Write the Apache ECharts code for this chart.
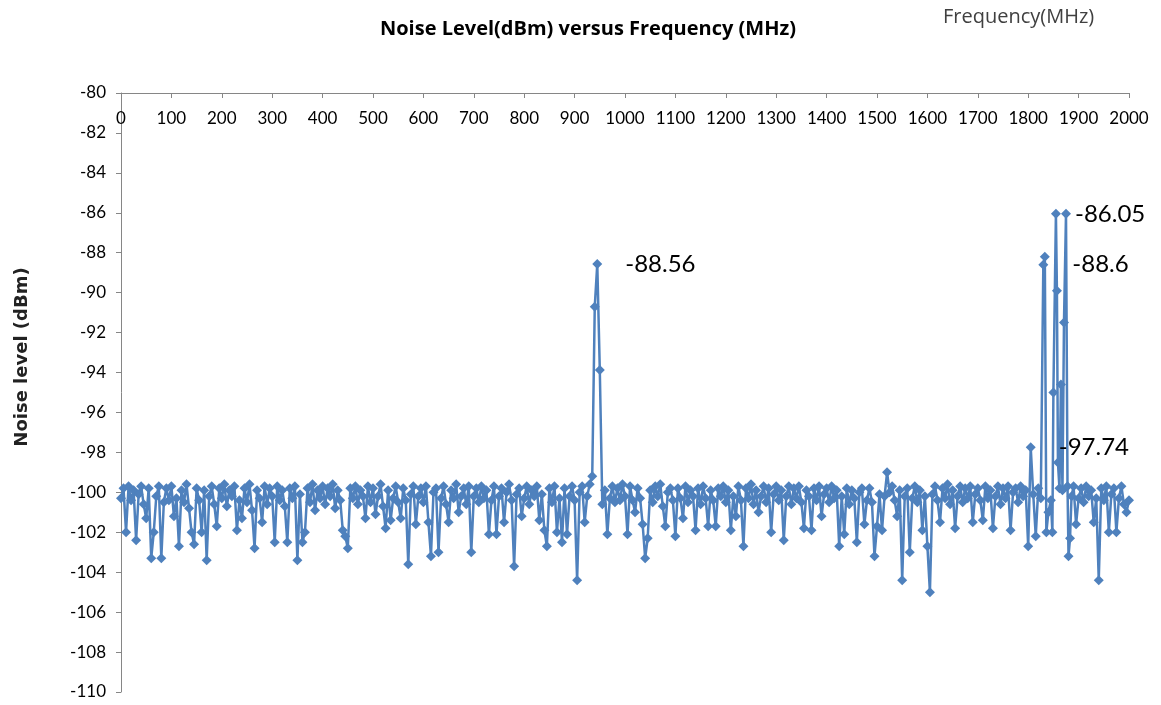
<!DOCTYPE html>
<html>
<head>
<meta charset="utf-8">
<script src="https://cdn.jsdelivr.net/npm/echarts@6/dist/echarts.min.js"></script>
<style>html,body{margin:0;padding:0;background:#fff}#c{width:1161px;height:705px}</style>
</head>
<body>
<div id="c"></div>
<script>
const title = 'Noise Level(dBm) versus Frequency (MHz)';
const xName = 'Frequency(MHz)';
const yName = 'Noise level (dBm)';

const freqs = [
0,5,10,15,20,25,30,35,40,45,50,55,60,65,70,75,80,85,90,95,
100,105,110,115,120,125,130,135,140,145,150,155,160,165,170,175,180,185,190,195,
200,205,210,215,220,225,230,235,240,245,250,255,260,265,270,275,280,285,290,295,
300,305,310,315,320,325,330,335,340,345,350,355,360,365,370,375,380,385,390,395,
400,405,410,415,420,425,430,435,440,445,450,455,460,465,470,475,480,485,490,495,
500,505,510,515,520,525,530,535,540,545,550,555,560,565,570,575,580,585,590,595,
600,605,610,615,620,625,630,635,640,645,650,655,660,665,670,675,680,685,690,695,
700,705,710,715,720,725,730,735,740,745,750,755,760,765,770,775,780,785,790,795,
800,805,810,815,820,825,830,835,840,845,850,855,860,865,870,875,880,885,890,895,
900,905,910,915,920,925,930,935,940,945,950,955,960,965,970,975,980,985,990,995,
1000,1005,1010,1015,1020,1025,1030,1035,1040,1045,1050,1055,1060,1065,1070,1075,1080,1085,1090,1095,
1100,1105,1110,1115,1120,1125,1130,1135,1140,1145,1150,1155,1160,1165,1170,1175,1180,1185,1190,1195,
1200,1205,1210,1215,1220,1225,1230,1235,1240,1245,1250,1255,1260,1265,1270,1275,1280,1285,1290,1295,
1300,1305,1310,1315,1320,1325,1330,1335,1340,1345,1350,1355,1360,1365,1370,1375,1380,1385,1390,1395,
1400,1405,1410,1415,1420,1425,1430,1435,1440,1445,1450,1455,1460,1465,1470,1475,1480,1485,1490,1495,
1500,1505,1510,1515,1520,1525,1530,1535,1540,1545,1550,1555,1560,1565,1570,1575,1580,1585,1590,1595,
1600,1605,1610,1615,1620,1625,1630,1635,1640,1645,1650,1655,1660,1665,1670,1675,1680,1685,1690,1695,
1700,1705,1710,1715,1720,1725,1730,1735,1740,1745,1750,1755,1760,1765,1770,1775,1780,1785,1790,1795,
1800,1805,1810,1815,1820,1825,1830,1833,1836,1840,1845,1848,1850,1855,1857,1859,1862,1865,1868,1871,1875,1878,1880,1883,1886,1890,1895,
1900,1905,1910,1915,1920,1925,1930,1935,1940,1945,1950,1955,1960,1965,1970,1975,1980,1985,1990,1995,
2000
];

const levels = [
-100.3,-99.8,-102.0,-99.7,-100.4,-99.9,-102.4,-100.1,-99.7,-100.6,-101.3,-99.8,-103.3,-102.0,-100.2,-99.7,-103.3,-100.5,-99.8,-100.4,
-99.7,-101.2,-100.3,-102.7,-99.9,-100.5,-99.6,-100.8,-102.0,-102.6,-99.8,-100.4,-102.0,-99.9,-103.4,-100.2,-99.7,-100.6,-101.7,-99.8,
-100.3,-99.6,-100.7,-99.9,-100.2,-99.7,-101.9,-100.4,-101.3,-99.8,-100.5,-99.6,-100.9,-102.8,-99.9,-100.3,-101.5,-99.7,-100.6,-99.8,
-100.2,-102.5,-99.7,-100.4,-99.9,-100.7,-102.5,-99.8,-100.3,-99.7,-103.4,-100.1,-102.5,-102.0,-99.8,-100.5,-99.6,-100.9,-99.9,-100.3,
-99.7,-100.6,-99.8,-100.2,-99.6,-100.8,-99.9,-100.4,-101.9,-102.2,-102.8,-99.8,-100.3,-99.7,-100.6,-99.9,-100.2,-101.3,-99.7,-100.5,
-99.8,-101.1,-100.2,-99.6,-100.7,-101.8,-99.9,-101.4,-100.3,-99.7,-100.5,-101.3,-99.8,-100.4,-103.6,-100.1,-99.7,-101.6,-100.2,-99.8,
-100.5,-99.7,-101.5,-103.2,-100.0,-99.8,-103.0,-100.3,-99.7,-100.6,-101.5,-99.9,-100.3,-99.6,-101.0,-100.2,-99.8,-100.6,-99.7,-103.0,
-100.2,-99.8,-100.5,-99.7,-100.3,-99.9,-102.1,-100.4,-99.7,-102.1,-100.2,-99.8,-101.5,-100.0,-99.6,-100.4,-103.7,-100.1,-99.8,-101.2,
-100.3,-99.7,-100.6,-99.9,-100.2,-99.7,-101.4,-100.1,-101.9,-102.7,-99.8,-100.5,-99.7,-102.0,-100.3,-102.5,-99.8,-102.1,-100.2,-99.7,
-100.4,-104.4,-100.0,-99.7,-101.5,-100.2,-99.6,-99.2,-90.7,-88.56,-93.87,-100.6,-99.9,-102.1,-100.3,-99.7,-100.5,-99.8,-100.4,-99.6,
-100.2,-102.1,-99.7,-100.4,-101.0,-99.8,-100.3,-101.6,-103.3,-102.3,-99.9,-100.5,-99.7,-100.2,-99.6,-100.7,-101.7,-100.0,-99.8,-100.4,
-102.2,-99.8,-100.3,-101.3,-99.7,-100.5,-99.9,-100.2,-101.9,-99.8,-100.6,-99.7,-100.3,-101.7,-99.9,-100.4,-101.7,-99.8,-100.2,-99.7,
-100.5,-99.9,-101.9,-100.2,-101.2,-99.7,-100.4,-102.7,-99.8,-100.3,-99.6,-100.6,-99.9,-101.0,-100.2,-99.7,-100.5,-99.8,-102.0,-100.1,
-99.7,-100.4,-99.9,-102.4,-100.2,-99.7,-100.6,-99.8,-100.3,-99.7,-100.5,-101.8,-99.9,-100.2,-101.9,-99.8,-100.4,-99.7,-101.2,-100.1,
-99.8,-100.5,-99.7,-100.3,-99.9,-102.7,-100.2,-102.1,-99.8,-100.6,-99.9,-100.3,-102.5,-100.0,-99.8,-101.6,-100.4,-99.8,-100.5,-103.2,
-101.7,-100.1,-101.9,-100.2,-99.0,-100.0,-99.7,-100.4,-101.2,-99.9,-104.4,-100.2,-99.8,-103.0,-100.3,-99.7,-100.5,-99.9,-101.9,-100.2,
-102.7,-105.0,-100.1,-99.7,-100.4,-101.5,-99.8,-100.3,-99.6,-100.6,-99.9,-101.8,-100.2,-99.7,-100.5,-99.8,-100.3,-99.7,-101.5,-100.1,
-99.8,-100.4,-101.4,-99.7,-100.3,-99.9,-101.8,-100.2,-99.7,-100.6,-99.8,-100.3,-99.7,-101.9,-100.0,-99.8,-100.5,-99.7,-100.2,-99.9,
-102.7,-97.74,-100.1,-102.2,-99.8,-100.3,-88.6,-88.2,-102.0,-101.0,-100.4,-102.0,-95.0,-86.05,-89.9,-98.5,-99.8,-94.6,-99.9,-91.5,-86.05,-99.7,-103.2,-102.3,-100.2,-99.7,-101.6,
-100.3,-99.8,-100.5,-99.7,-100.2,-99.9,-101.5,-100.3,-104.4,-99.8,-100.4,-99.7,-102.0,-100.1,-99.8,-102.0,-100.3,-99.7,-100.6,-101.0,
-100.4
];

// points that carry a data label (the label shows the point's value)
const labelledFreqs = [945, 1875, 1830, 1805];
// label gap to the right of each labelled point (style only)
const labelGap = {945: 23, 1875: 4, 1830: 24, 1805: 23};

const blue = '#4F81BD';
const data = freqs.map((f, i) => {
  const item = { value: [f, levels[i]] };
  if (labelledFreqs.includes(f)) {
    item.label = {
      show: true, position: 'right', distance: labelGap[f],
      formatter: p => String(p.value[1]),
      fontFamily: 'Lato', fontSize: 24, color: '#000'
    };
  }
  return item;
});

const chart = echarts.init(document.getElementById('c'), null, {renderer: 'canvas'});
chart.setOption({
  animation: false,
  backgroundColor: '#fff',
  title: {
    text: title, left: 583, top: 14, textAlign: 'center',
    textStyle: {fontFamily: 'Open Sans', fontWeight: 'bold', fontSize: 20, color: '#000'}
  },
  graphic: [
    {type: 'text', left: 943, top: 7, style: {text: xName, font: '20px "Open Sans", sans-serif', fill: '#404040'}},
    {type: 'text', x: 22, y: 357, rotation: Math.PI / 2,
     style: {text: yName, font: 'bold 18px "DejaVu Sans", sans-serif', fill: '#222', align: 'center', verticalAlign: 'middle'}}
  ],
  grid: {left: 121, right: 32, top: 93, bottom: 13, containLabel: false},
  xAxis: {
    type: 'value', position: 'top', min: 0, max: 2000, interval: 100,
    axisLine: {show: true, lineStyle: {color: '#868686', width: 1}},
    axisTick: {show: true, inside: true, length: 5, lineStyle: {color: '#868686'}},
    axisLabel: {inside: true, margin: 17, fontFamily: 'Lato', fontSize: 17, color: '#000', formatter: v => String(v)},
    splitLine: {show: false}
  },
  yAxis: {
    type: 'value', min: -110, max: -80, interval: 2,
    axisLine: {show: true, lineStyle: {color: '#868686', width: 1}},
    axisTick: {show: true, length: 5, lineStyle: {color: '#868686'}},
    axisLabel: {margin: 15, fontFamily: 'Lato', fontSize: 17, color: '#000', formatter: v => String(v)},
    splitLine: {show: false}
  },
  series: [{
    type: 'line', data: data,
    symbol: 'diamond', symbolSize: 10,
    lineStyle: {color: blue, width: 2.5},
    itemStyle: {color: blue},
    emphasis: {disabled: true}
  }]
});
</script>
</body>
</html>
